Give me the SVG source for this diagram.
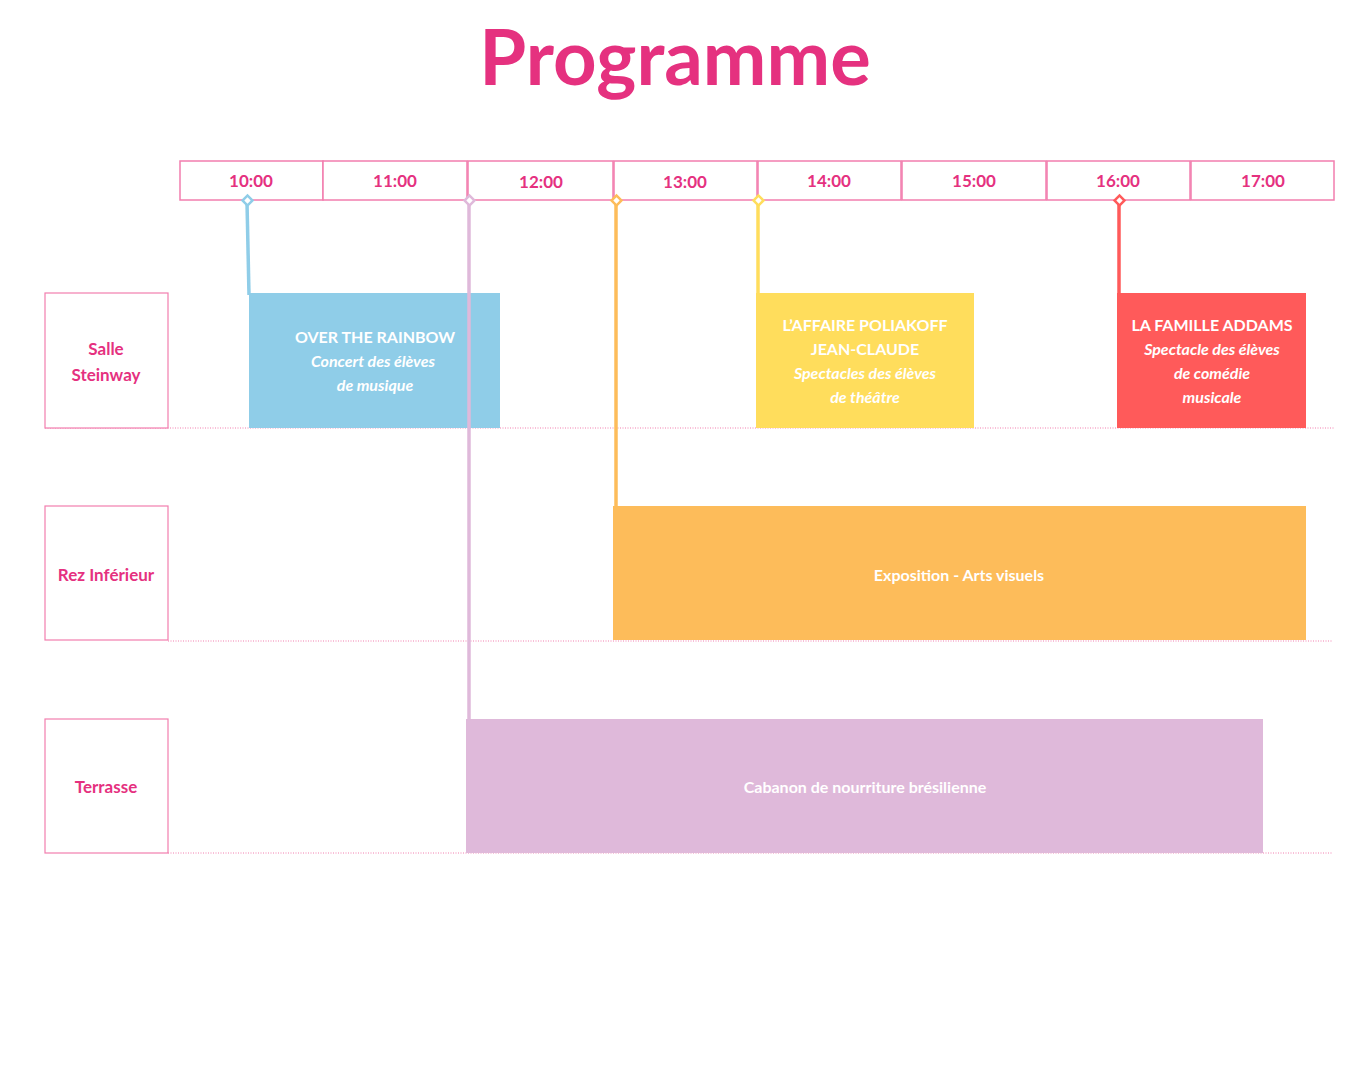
<svg xmlns="http://www.w3.org/2000/svg" width="1350" height="1080" viewBox="0 0 1350 1080">
<style>
text{font-family:"Lato","Liberation Sans",sans-serif;text-anchor:middle}
.h rect{fill:#fff;stroke:#F27EAE;stroke-width:1.5}
.h text{fill:#E5317F;font-size:17px;font-weight:bold}
.lab rect{fill:#fff;stroke:#F27EAE;stroke-width:1.2}
.lab text{fill:#E5317F;font-size:17px;font-weight:bold}
.ev text{fill:#fff;font-size:16px;font-weight:bold}
.ev .i{font-style:italic}
.sep{stroke:#F27EAE;stroke-width:1;stroke-dasharray:1 1.5}
.c{fill:none;stroke-width:3.5}
.d{fill:#fff;stroke-width:2.5}
</style>
<rect width="1350" height="1080" fill="#fff"/>
<text x="675" y="85" style="font-size:76px;font-weight:bold;fill:#E5317F">Programme</text>
<g class="h" id="header">
<rect x="180" y="161" width="143" height="39"/><text x="251" y="187">10:00</text>
<rect x="323" y="161" width="144" height="39"/><text x="395" y="187">11:00</text>
<rect x="468" y="161" width="145" height="39"/><text x="541" y="188">12:00</text>
<rect x="614" y="161" width="143" height="39"/><text x="685" y="188">13:00</text>
<rect x="758" y="161" width="143" height="39"/><text x="829" y="187">14:00</text>
<rect x="902" y="161" width="144" height="39"/><text x="974" y="187">15:00</text>
<rect x="1047" y="161" width="143" height="39"/><text x="1118" y="187">16:00</text>
<rect x="1191" y="161" width="143" height="39"/><text x="1263" y="187">17:00</text>
</g>
<g id="rows">
<line class="sep" x1="45" y1="428" x2="1335" y2="428"/>
<line class="sep" x1="168" y1="641" x2="1333" y2="641"/>
<line class="sep" x1="168" y1="853" x2="1333" y2="853"/>
</g>
<g class="lab" id="salle"><rect x="45" y="293" width="123" height="135"/><text x="106" y="355">Salle</text><text x="106" y="381">Steinway</text></g>
<g class="lab" id="rez"><rect x="45" y="506" width="123" height="134"/><text x="106" y="581">Rez Inférieur</text></g>
<g class="lab" id="terrasse"><rect x="45" y="719" width="123" height="134"/><text x="106" y="793">Terrasse</text></g>
<g class="ev" id="rainbow"><rect x="249" y="293" width="251" height="135" fill="#8FCDE8"/><text x="375" y="343">OVER THE RAINBOW</text><text class="i" x="373" y="367">Concert des élèves</text><text class="i" x="375" y="391">de musique</text></g>
<g class="ev" id="poliakoff"><rect x="756" y="293" width="218" height="135" fill="#FFDD5C"/><text x="865" y="331">L’AFFAIRE POLIAKOFF</text><text x="865" y="355">JEAN-CLAUDE</text><text class="i" x="865" y="379">Spectacles des élèves</text><text class="i" x="865" y="403">de théâtre</text></g>
<g class="ev" id="addams"><rect x="1117" y="293" width="189" height="135" fill="#FF5A5A"/><text x="1212" y="331">LA FAMILLE ADDAMS</text><text class="i" x="1212" y="355">Spectacle des élèves</text><text class="i" x="1212" y="379">de comédie</text><text class="i" x="1212" y="403">musicale</text></g>
<g class="ev" id="expo"><rect x="613" y="506" width="693" height="134" fill="#FDBC5A"/><text x="959" y="581">Exposition - Arts visuels</text></g>
<g class="ev" id="cabanon"><rect x="466" y="719" width="797" height="134" fill="#DFB9DA"/><text x="865" y="793">Cabanon de nourriture brésilienne</text></g>
<g id="connectors">
<polyline class="c" stroke="#8FCDE8" points="247,202 249,295"/>
<polyline class="c" stroke="#DFB9DA" points="469,202 469,721"/>
<polyline class="c" stroke="#FDBC5A" points="616,202 616,508"/>
<polyline class="c" stroke="#FFDD5C" points="758,202 758,295"/>
<polyline class="c" stroke="#FF5A5A" points="1119,202 1119,295"/>
<rect class="d" stroke="#8FCDE8" x="244" y="197" width="7" height="7" transform="rotate(45 247.5 200.5)"/>
<rect class="d" stroke="#DFB9DA" x="466" y="197" width="7" height="7" transform="rotate(45 469.5 200.5)"/>
<rect class="d" stroke="#FDBC5A" x="613" y="197" width="7" height="7" transform="rotate(45 616.5 200.5)"/>
<rect class="d" stroke="#FFDD5C" x="755" y="197" width="7" height="7" transform="rotate(45 758.5 200.5)"/>
<rect class="d" stroke="#FF5A5A" x="1116" y="197" width="7" height="7" transform="rotate(45 1119.5 200.5)"/>
</g>
</svg>
